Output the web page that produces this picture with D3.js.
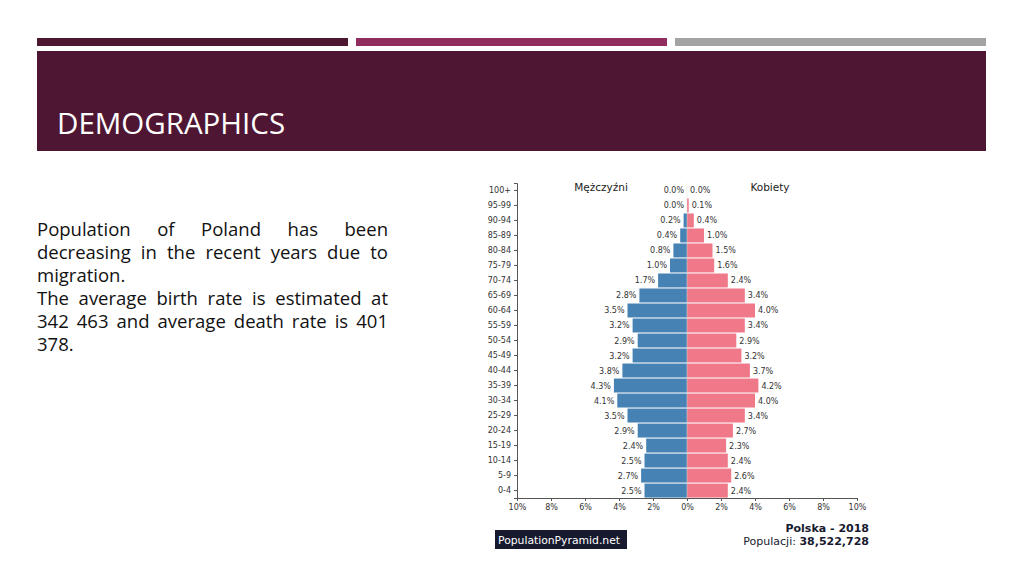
<!DOCTYPE html>
<html><head><meta charset="utf-8">
<script src="https://cdn.jsdelivr.net/npm/d3@7"></script>
<style>
body{margin:0;width:1024px;height:575px;background:#fff;overflow:hidden;font-family:"Open Sans","Noto Sans",sans-serif;position:relative}
#txt{position:absolute;left:37px;top:217px;width:351px;font-size:18.5px;line-height:23px;text-align:justify;color:#111}
svg{position:absolute;left:0;top:0}
</style></head><body>
<svg id="c" width="1024" height="575"></svg>
<div id="txt">Population of Poland has been decreasing in the recent years due to migration.<br>The average birth rate is estimated at 342 463 and average death rate is 401 378.</div>
<script>
const ages=["100+","95-99","90-94","85-89","80-84","75-79","70-74","65-69","60-64","55-59","50-54","45-49","40-44","35-39","30-34","25-29","20-24","15-19","10-14","5-9","0-4"];
const male=[0.0,0.0,0.2,0.4,0.8,1.0,1.7,2.8,3.5,3.2,2.9,3.2,3.8,4.3,4.1,3.5,2.9,2.4,2.5,2.7,2.5];
const female=[0.0,0.1,0.4,1.0,1.5,1.6,2.4,3.4,4.0,3.4,2.9,3.2,3.7,4.2,4.0,3.4,2.7,2.3,2.4,2.6,2.4];
const ticks=[-10,-8,-6,-4,-2,0,2,4,6,8,10];
const svg=d3.select("#c");
[[37,"#4c1731"],[356,"#8f2d5e"],[675,"#a3a3a3"]].forEach(([x,c])=>svg.append("rect").attr("x",x).attr("y",38).attr("width",311).attr("height",8).attr("fill",c));
svg.append("rect").attr("x",37).attr("y",51).attr("width",949).attr("height",100).attr("fill",'#4f1634');
svg.append("text").attr("x",57).attr("y",134).attr("fill","#fff").attr("font-size",29.5).attr("font-family","Open Sans").text("DEMOGRAPHICS");
const x=d3.scaleLinear().domain([-10,10]).range([517,857]);
const y=d3.scaleBand().domain(ages).range([183,498]).paddingInner(0.07).paddingOuter(0.03);
const fs=8;
const g=svg.append("g").attr("font-family","DejaVu Sans").attr("font-size",fs).attr("fill","#333");
g.selectAll(".m").data(ages).join("rect").attr("x",(d,i)=>x(-male[i])).attr("y",d=>y(d)).attr("width",(d,i)=>x(0)-x(-male[i])).attr("height",y.bandwidth()).attr("fill","#4682b4");
g.selectAll(".f").data(ages).join("rect").attr("x",x(0)).attr("y",d=>y(d)).attr("width",(d,i)=>x(female[i])-x(0)).attr("height",y.bandwidth()).attr("fill","#ef7889");
g.selectAll(".ml").data(ages).join("text").attr("x",(d,i)=>x(-male[i])-3).attr("y",d=>y(d)+y.bandwidth()/2+3).attr("text-anchor","end").text((d,i)=>male[i].toFixed(1)+"%");
g.selectAll(".fl").data(ages).join("text").attr("x",(d,i)=>x(female[i])+3).attr("y",d=>y(d)+y.bandwidth()/2+3).text((d,i)=>female[i].toFixed(1)+"%");
svg.append("line").attr("x1",x(0)).attr("x2",x(0)).attr("y1",183).attr("y2",498).attr("stroke","#ddd").attr("stroke-width",0.5);
const xa=svg.append("g").attr("transform","translate(0,498)").call(d3.axisBottom(x).tickValues(ticks).tickSize(3).tickFormat(d=>Math.abs(d)+"%"));
xa.selectAll("text").attr("font-size",fs).attr("font-family","DejaVu Sans").attr("fill","#333");
xa.selectAll("path,line").attr("stroke","#555");
const ya=svg.append("g").attr("transform","translate(517,0)").call(d3.axisLeft(y).tickSize(3));
ya.selectAll("text").attr("font-size",fs).attr("font-family","DejaVu Sans").attr("fill","#333");
ya.selectAll("path,line").attr("stroke","#555");
svg.append("text").attr("x",601).attr("y",191).attr("text-anchor","middle").attr("font-size",10.5).attr("font-family","DejaVu Sans").attr("fill","#222").text("Mężczyźni");
svg.append("text").attr("x",770).attr("y",191).attr("text-anchor","middle").attr("font-size",10.5).attr("font-family","DejaVu Sans").attr("fill","#222").text("Kobiety");
svg.append("rect").attr("x",495).attr("y",530).attr("width",132).attr("height",19).attr("fill","#171a2e");
svg.append("text").attr("x",498).attr("y",544).attr("fill","#fff").attr("font-size",10.8).attr("font-family","DejaVu Sans").attr("textLength",122).text("PopulationPyramid.net");
svg.append("text").attr("x",869).attr("y",532).attr("text-anchor","end").attr("font-size",11).attr("font-weight","bold").attr("font-family","DejaVu Sans").attr("fill","#171a2e").text("Polska - 2018");
const t=svg.append("text").attr("x",869).attr("y",545).attr("text-anchor","end").attr("font-size",11).attr("font-family","DejaVu Sans").attr("fill","#171a2e");
t.append("tspan").text("Populacji: ");t.append("tspan").attr("font-weight","bold").text("38,522,728");
</script></body></html>
